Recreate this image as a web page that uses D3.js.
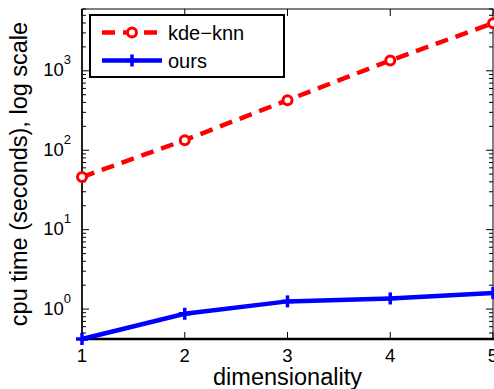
<!DOCTYPE html>
<html>
<head>
<meta charset="utf-8">
<script src="https://cdn.jsdelivr.net/npm/d3@7"></script>
<style>
  body { margin: 0; background: #fff; }
  svg text { font-family: "Liberation Sans", Arial, sans-serif; fill: #000; }
</style>
</head>
<body>
<div class="data_figure"></div>
<script>
const dims = [1, 2, 3, 4, 5];
const kdeKnn = [46, 134, 427, 1350, 3980];
const ours = [0.42, 0.873, 1.25, 1.36, 1.59];
const yTickExps = [0, 1, 2, 3];
const seriesNames = ["kde\u2212knn", "ours"];

const width = 494, height = 389;
const pLeft = 82, pRight = 493, pTop = 9, pBottom = 339;

const svg = d3.select(".data_figure")
    .append("svg")
    .attr("width", width)
    .attr("height", height);

const xScale = d3.scaleLinear().domain([1, 5]).range([pLeft, pRight]);
const yScale = d3.scaleLog().domain([0.42, 6000]).range([pBottom, pTop]);

// minor ticks (log) on left and right
let minor = [];
for (let e = -1; e <= 3; e++) {
    for (let m = 2; m <= 9; m++) {
        let v = m * Math.pow(10, e);
        if (v >= 0.42 && v <= 6000) minor.push(v);
    }
}
const ticksG = svg.append("g").attr("stroke", "#000").attr("stroke-width", 1);
minor.forEach(v => {
    let y = yScale(v);
    ticksG.append("line").attr("x1", pLeft).attr("x2", pLeft + 4).attr("y1", y).attr("y2", y);
    ticksG.append("line").attr("x1", pRight - 4).attr("x2", pRight).attr("y1", y).attr("y2", y);
});
yTickExps.forEach(e => {
    let y = yScale(Math.pow(10, e));
    ticksG.append("line").attr("x1", pLeft).attr("x2", pLeft + 7).attr("y1", y).attr("y2", y);
    ticksG.append("line").attr("x1", pRight - 7).attr("x2", pRight).attr("y1", y).attr("y2", y);
});
dims.forEach(d => {
    let x = xScale(d);
    ticksG.append("line").attr("x1", x).attr("x2", x).attr("y1", pBottom).attr("y2", pBottom - 7);
    ticksG.append("line").attr("x1", x).attr("x2", x).attr("y1", pTop).attr("y2", pTop + 7);
});

// box
svg.append("rect")
    .attr("x", pLeft).attr("y", pTop)
    .attr("width", pRight - pLeft).attr("height", pBottom - pTop)
    .attr("fill", "none").attr("stroke", "#000").attr("stroke-width", 1);
svg.append("line")
    .attr("x1", pLeft - 1).attr("x2", pRight + 1)
    .attr("y1", pBottom).attr("y2", pBottom)
    .attr("stroke", "#000").attr("stroke-width", 2.5);
svg.append("line")
    .attr("x1", pLeft).attr("x2", pLeft)
    .attr("y1", pTop).attr("y2", pBottom)
    .attr("stroke", "#000").attr("stroke-width", 1.5);

// tick labels
dims.forEach(d => {
    svg.append("text")
        .attr("x", xScale(d)).attr("y", 362)
        .attr("text-anchor", "middle")
        .attr("font-size", 18.5)
        .text(d);
});
yTickExps.forEach(e => {
    let y = yScale(Math.pow(10, e));
    let t = svg.append("text")
        .attr("x", 71).attr("y", y + 5.5)
        .attr("text-anchor", "end")
        .attr("font-size", 18.5);
    t.append("tspan").text("10");
    t.append("tspan").attr("dy", -12).attr("font-size", 13).text(e);
});

// axis labels
svg.append("text")
    .attr("transform", "translate(27," + ((pTop + pBottom) / 2) + ") rotate(-90)")
    .attr("text-anchor", "middle")
    .attr("font-size", 23.5)
    .text("cpu time (seconds), log scale");
svg.append("text")
    .attr("x", (pLeft + pRight) / 2).attr("y", 385)
    .attr("text-anchor", "middle")
    .attr("font-size", 23.5)
    .text("dimensionality");

// lines
const line = d3.line().x((d, i) => xScale(dims[i])).y(d => yScale(d));
const plot = svg.append("g");
plot.append("path")
    .datum(kdeKnn)
    .attr("d", line)
    .attr("fill", "none").attr("stroke", "#ff0000")
    .attr("stroke-width", 4.5).attr("stroke-dasharray", "13,8");
plot.selectAll("circle.kde")
    .data(kdeKnn).enter()
    .append("circle")
    .attr("class", "kde")
    .attr("cx", (d, i) => xScale(dims[i]))
    .attr("cy", d => yScale(d))
    .attr("r", 4.5)
    .attr("fill", "#fff").attr("stroke", "#ff0000").attr("stroke-width", 3);

plot.append("path")
    .datum(ours)
    .attr("d", line)
    .attr("fill", "none").attr("stroke", "#0000ff")
    .attr("stroke-width", 4.5);
const plus = (g, x, y) => {
    g.append("line").attr("x1", x - 6).attr("x2", x + 6).attr("y1", y).attr("y2", y)
        .attr("stroke", "#0000ff").attr("stroke-width", 3.5);
    g.append("line").attr("x1", x).attr("x2", x).attr("y1", y - 6).attr("y2", y + 6)
        .attr("stroke", "#0000ff").attr("stroke-width", 3.5);
};
ours.forEach((v, i) => plus(plot, xScale(dims[i]), yScale(v)));

// legend
const lg = svg.append("g");
lg.append("rect")
    .attr("x", 90).attr("y", 15).attr("width", 194).attr("height", 62)
    .attr("fill", "#fff").attr("stroke", "#000").attr("stroke-width", 2);
lg.append("line")
    .attr("x1", 102).attr("x2", 162).attr("y1", 32.5).attr("y2", 32.5)
    .attr("stroke", "#ff0000").attr("stroke-width", 4.5).attr("stroke-dasharray", "13,8");
lg.append("circle")
    .attr("cx", 132).attr("cy", 32.5).attr("r", 4.5)
    .attr("fill", "#fff").attr("stroke", "#ff0000").attr("stroke-width", 3);
lg.append("text").attr("x", 168).attr("y", 39.5).attr("font-size", 20).text(seriesNames[0]);
lg.append("line")
    .attr("x1", 102).attr("x2", 162).attr("y1", 60.5).attr("y2", 60.5)
    .attr("stroke", "#0000ff").attr("stroke-width", 4.5);
plus(lg, 132, 60.5);
lg.append("text").attr("x", 168).attr("y", 67.5).attr("font-size", 20).text(seriesNames[1]);
</script>
</body>
</html>
